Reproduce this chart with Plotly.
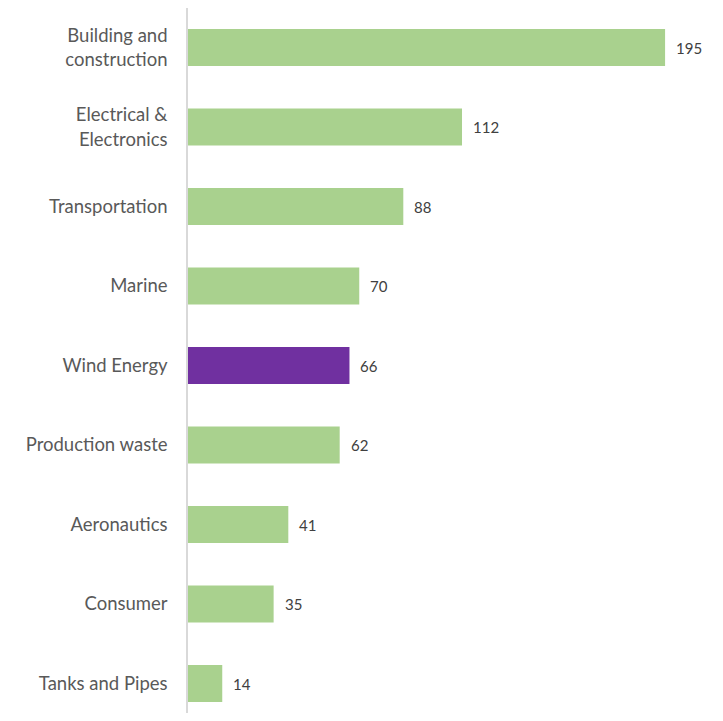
import plotly.graph_objects as go

categories = ["Building and<br>construction", "Electrical &<br>Electronics", "Transportation",
              "Marine", "Wind Energy", "Production waste", "Aeronautics", "Consumer", "Tanks and Pipes"]
values = [195, 112, 88, 70, 66, 62, 41, 35, 14]
highlight = "Wind Energy"

green = "#a9d18e"
purple = "#7030a0"
colors = [purple if c == highlight else green for c in categories]

fig = go.Figure(go.Bar(
    x=values, y=categories, orientation="h",
    marker=dict(color=colors, line=dict(width=0)),
    hoverinfo="skip",
))

for c, v in zip(categories, values):
    fig.add_annotation(x=v, y=c, text=str(v), showarrow=False, xanchor="left",
                       xshift=9, font=dict(size=15, color="#404040", family="Lato"))

fig.update_layout(
    width=707, height=705,
    margin=dict(l=180, r=12, t=0, b=0),
    paper_bgcolor="white", plot_bgcolor="white",
    bargap=0.535, showlegend=False,
    font=dict(family="Lato", color="#595959"),
)
fig.update_xaxes(range=[0, 210.5], visible=False)
fig.update_yaxes(range=[8.371, -0.497], showline=True, linecolor="#d9d9d9", linewidth=1.5,
                 automargin=False,
                 ticks="outside", ticklen=15, tickcolor="rgba(0,0,0,0)",
                 tickfont=dict(size=18.5, color="#595959", family="Lato"), showgrid=False)

fig.write_html("out.html")
